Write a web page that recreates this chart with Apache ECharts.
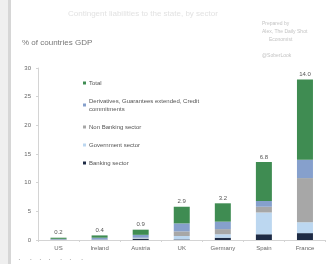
<!DOCTYPE html>
<html>
<head>
<meta charset="utf-8">
<script src="https://cdn.jsdelivr.net/npm/echarts@6/dist/echarts.min.js"></script>
<style>
    html, body {margin: 0; padding: 0; background: #fff;}
    #main {width: 329px; height: 264px;}
</style>
</head>
<body>
<div id="main"></div>
<script>
// countries
var countries = ['US', 'Ireland', 'Austria', 'UK', 'Germany', 'Spain', 'France'];
// % of GDP by sector
var banking = [0.05, 0.05, 0.2, 0.1, 0.4, 1.0, 1.2];
var government = [0.02, 0.05, 0.1, 0.6, 0.6, 3.8, 1.9];
var nonBanking = [0.03, 0.0, 0.1, 0.8, 0.9, 1.0, 7.7];
var derivatives = [0.1, 0.3, 0.5, 1.4, 1.3, 1.0, 3.2];
var total = [0.2, 0.4, 0.9, 2.9, 3.2, 6.8, 14.0];
var yTicks = [0, 5, 10, 15, 20, 25, 30];

var myChart = echarts.init(document.getElementById('main'));

function barSeries(name, data, color) {
    return {
        name: name,
        type: 'bar',
        stack: 'all',
        barWidth: 16,
        data: data,
        itemStyle: {color: color}
    };
}

var totalSeries = barSeries('Total', total, '#3f8c52');
totalSeries.label = {
    show: true,
    position: 'top',
    distance: 2,
    fontSize: 6,
    color: '#555',
    formatter: function (p) { return p.value.toFixed(1); }
};

var option = {
    backgroundColor: '#fff',
    animation: false,
    textStyle: {fontFamily: 'Liberation Sans'},
    graphic: [
        {type: 'rect', shape: {x: 0, y: 0, width: 8, height: 264}, style: {fill: '#efefef'}},
        {type: 'rect', shape: {x: 8, y: 0, width: 3, height: 264}, style: {fill: '#d6d6d6'}},
        {type: 'text', left: 22, top: 39, style: {text: '% of countries GDP', fontSize: 8, fill: '#777'}},
        {type: 'text', left: 68, top: 10, style: {text: 'Contingent liabilities to the state, by sector', fontSize: 8, fill: '#e2e2e2'}},
        {type: 'text', left: 262, top: 20, style: {text: 'Prepared by\nAlex, The Daily Shot\n     Economist\n\n@SoberLook', fontSize: 5, lineHeight: 8, fill: '#c4c4c4'}},
        {type: 'text', left: 18, top: 256, style: {text: '·    ·   ·   ·    ·   ·    ·', fontSize: 8, fill: '#aaa'}}
    ],
    legend: {
        orient: 'vertical',
        left: 78,
        top: 74,
        itemWidth: 3,
        itemHeight: 3,
        itemGap: 10,
        icon: 'rect',
        data: ['Total', 'Derivatives, Guarantees extended, Credit\ncommitments', 'Non Banking sector', 'Government sector', 'Banking sector'],
        textStyle: {fontSize: 6, color: '#555', lineHeight: 8, padding: [0, 0, 0, -2]}
    },
    grid: {left: 38, right: 3.5, top: 68, bottom: 24},
    xAxis: {
        type: 'category',
        data: countries,
        axisLine: {lineStyle: {color: '#d4d4d4'}},
        axisTick: {show: true, length: 2, lineStyle: {color: '#d4d4d4'}},
        axisLabel: {fontSize: 6, color: '#666', margin: 5}
    },
    yAxis: {
        type: 'value',
        min: yTicks[0],
        max: yTicks[yTicks.length - 1],
        interval: 5,
        axisLine: {show: true, lineStyle: {color: '#d4d4d4'}},
        axisTick: {show: true, length: 2, lineStyle: {color: '#d4d4d4'}},
        splitLine: {show: false},
        axisLabel: {fontSize: 6, color: '#666', margin: 7}
    },
    series: [
        barSeries('Banking sector', banking, '#1e2b45'),
        barSeries('Government sector', government, '#bcd7f0'),
        barSeries('Non Banking sector', nonBanking, '#a7a7a7'),
        barSeries('Derivatives, Guarantees extended, Credit\ncommitments', derivatives, '#86a0cc'),
        totalSeries
    ]
};

myChart.setOption(option);
</script>
</body>
</html>
